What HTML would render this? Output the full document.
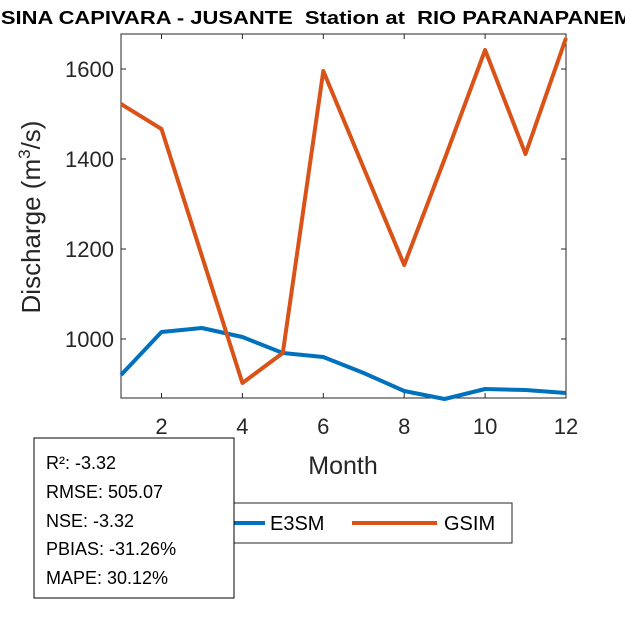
<!DOCTYPE html>
<html><head><meta charset="utf-8"><style>
html,body{margin:0;padding:0;background:#fff;}
svg{display:block;font-family:"Liberation Sans",Arial,sans-serif;}
</style></head><body>
<svg width="625" height="625" viewBox="0 0 625 625" xmlns="http://www.w3.org/2000/svg">
<rect width="625" height="625" fill="#fff"/>
<text x="-15" y="24" font-size="18" font-weight="bold" fill="#000" textLength="663" lengthAdjust="spacingAndGlyphs" style="white-space:pre">USINA CAPIVARA - JUSANTE  Station at  RIO PARANAPANEMA</text>
<rect x="121" y="34" width="445" height="364" fill="#fff" stroke="#262626" stroke-width="1"/>
<g stroke="#262626" stroke-width="1">
<line x1="161.5" y1="398" x2="161.5" y2="393"/><line x1="242.4" y1="398" x2="242.4" y2="393"/>
<line x1="323.3" y1="398" x2="323.3" y2="393"/><line x1="404.2" y1="398" x2="404.2" y2="393"/>
<line x1="485.1" y1="398" x2="485.1" y2="393"/>
<line x1="161.5" y1="34" x2="161.5" y2="39"/><line x1="242.4" y1="34" x2="242.4" y2="39"/>
<line x1="323.3" y1="34" x2="323.3" y2="39"/><line x1="404.2" y1="34" x2="404.2" y2="39"/>
<line x1="485.1" y1="34" x2="485.1" y2="39"/>
<line x1="121" y1="339" x2="126" y2="339"/><line x1="121" y1="249" x2="126" y2="249"/>
<line x1="121" y1="159" x2="126" y2="159"/><line x1="121" y1="69" x2="126" y2="69"/>
<line x1="566" y1="339" x2="561" y2="339"/><line x1="566" y1="249" x2="561" y2="249"/>
<line x1="566" y1="159" x2="561" y2="159"/><line x1="566" y1="69" x2="561" y2="69"/>
</g>
<g font-size="22" fill="#262626" text-anchor="middle">
<text x="161.5" y="434">2</text><text x="242.4" y="434">4</text><text x="323.3" y="434">6</text>
<text x="404.2" y="434">8</text><text x="485.1" y="434">10</text><text x="566" y="434">12</text>
</g>
<g font-size="22" fill="#262626" text-anchor="end">
<text x="114" y="347">1000</text><text x="114" y="257">1200</text>
<text x="114" y="167">1400</text><text x="114" y="77">1600</text>
</g>
<text x="343" y="474" font-size="25" fill="#262626" text-anchor="middle">Month</text>
<text transform="translate(40,217) rotate(-90)" font-size="26" fill="#262626" text-anchor="middle">Discharge (m<tspan font-size="17" dy="-10">3</tspan><tspan dy="10">/s)</tspan></text>
<polyline fill="none" stroke="#0072BD" stroke-width="4" stroke-linejoin="round" points="121,375 161.5,332 201.9,328 242.4,337 282.8,353 323.3,357 363.7,373 404.2,391 444.6,399 485.1,389 525.5,390 566,393"/>
<polyline fill="none" stroke="#D95319" stroke-width="4" stroke-linejoin="round" points="121,104 161.5,129 201.9,256 242.4,383 282.8,353 323.3,71 363.7,168 404.2,265 444.6,159 485.1,50 525.5,154 566,38"/>
<rect x="200" y="503" width="312" height="40" fill="#fff" stroke="#262626" stroke-width="1"/>
<line x1="210" y1="523" x2="265" y2="523" stroke="#0072BD" stroke-width="4"/>
<text x="270" y="530" font-size="20" fill="#000">E3SM</text>
<line x1="352" y1="523" x2="437" y2="523" stroke="#D95319" stroke-width="4"/>
<text x="444" y="530" font-size="20" fill="#000">GSIM</text>
<rect x="34" y="438" width="200" height="160" fill="#fff" stroke="#000" stroke-width="1"/>
<g font-size="18" fill="#000">
<text x="46" y="469">R²: -3.32</text>
<text x="46" y="498">RMSE: 505.07</text>
<text x="46" y="527">NSE: -3.32</text>
<text x="46" y="555">PBIAS: -31.26%</text>
<text x="46" y="584">MAPE: 30.12%</text>
</g>
</svg>
</body></html>
